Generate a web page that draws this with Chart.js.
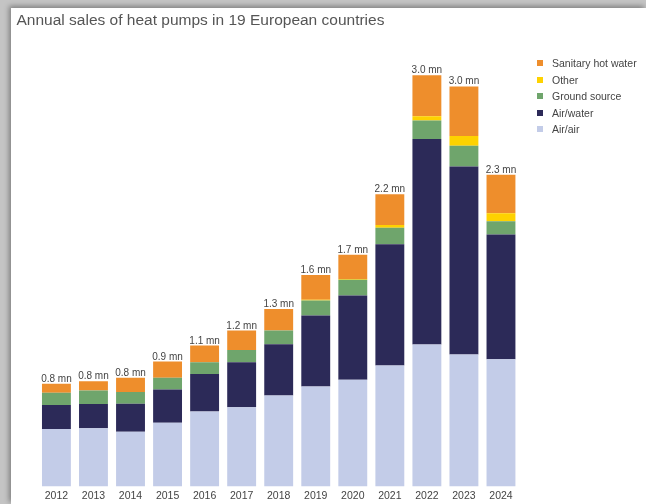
<!DOCTYPE html>
<html>
<head>
<meta charset="utf-8">
<script src="https://cdn.jsdelivr.net/npm/chart.js@4.4.1/dist/chart.umd.min.js"></script>
<style>
  html, body { margin: 0; padding: 0; }
  body { width: 646px; height: 504px; background: #c4c4c4; overflow: hidden; position: relative;
         font-family: "Liberation Sans", Arial, sans-serif; }
  #panel { position: absolute; left: 11px; top: 8px; width: 635px; height: 496px; background: #fff;
           box-shadow: -2px -2px 5px rgba(0,0,0,0.35); }
  canvas { display: block; }
  #legend { position: absolute; left: 537px; top: 55px; }
  #legend .item { position: relative; height: 16.5px; line-height: 16.5px; font-size: 10.5px; color: #444; white-space: nowrap; }
  #legend .sw { position: absolute; left: 0; top: 5.25px; width: 6px; height: 6px; }
  #legend .txt { position: absolute; left: 15px; top: 0; }
</style>
</head>
<body>
<div id="panel"><canvas id="graph" width="635" height="496"></canvas></div>
<div id="legend"></div>
<script>
const years = ['2012', '2013', '2014', '2015', '2016', '2017', '2018', '2019', '2020', '2021', '2022', '2023', '2024'];

// sales in millions
const airAir =     [0.42, 0.425, 0.40, 0.465, 0.547, 0.579, 0.664, 0.73, 0.78, 0.883, 1.036, 0.963, 0.929];
const airWater =   [0.175, 0.178, 0.204, 0.243, 0.275, 0.328, 0.375, 0.518, 0.615, 0.885, 1.50, 1.372, 0.91];
const ground =     [0.09, 0.097, 0.085, 0.085, 0.085, 0.09, 0.10, 0.11, 0.115, 0.121, 0.136, 0.153, 0.097];
const other =      [0, 0, 0, 0, 0, 0, 0, 0.005, 0.005, 0.02, 0.03, 0.07, 0.058];
const sanitary =   [0.065, 0.068, 0.104, 0.119, 0.122, 0.141, 0.156, 0.18, 0.177, 0.224, 0.30, 0.362, 0.282];

const totalLabels = ['0.8 mn', '0.8 mn', '0.8 mn', '0.9 mn', '1.1 mn', '1.2 mn', '1.3 mn', '1.6 mn', '1.7 mn', '2.2 mn', '3.0 mn', '3.0 mn', '2.3 mn'];

const FONT = '"Liberation Sans", Arial, sans-serif';

// totals written on top of each stack
const totalsPlugin = {
    id: 'totals',
    afterDatasetsDraw(chart) {
        const ctx = chart.ctx;
        const x = chart.scales.x;
        const y = chart.scales.y;
        ctx.save();
        ctx.font = '10px ' + FONT;
        ctx.fillStyle = '#444';
        ctx.textAlign = 'center';
        ctx.textBaseline = 'alphabetic';
        years.forEach((yr, i) => {
            const total = airAir[i] + airWater[i] + ground[i] + other[i] + sanitary[i];
            ctx.fillText(totalLabels[i], x.getPixelForValue(i), y.getPixelForValue(total) - 2);
        });
        ctx.restore();
    }
};

var ctx = document.getElementById('graph').getContext('2d');

var chart = new Chart(ctx, {
    type: 'bar',
    data: {
        labels: years,
        datasets: [
            { label: 'Air/air', data: airAir, backgroundColor: '#c3cce8' },
            { label: 'Air/water', data: airWater, backgroundColor: '#2c2a58' },
            { label: 'Ground source', data: ground, backgroundColor: '#6fa56c' },
            { label: 'Other', data: other, backgroundColor: '#fed200' },
            { label: 'Sanitary hot water', data: sanitary, backgroundColor: '#ee8e2c' }
        ]
    },
    options: {
        responsive: false,
        animation: false,
        devicePixelRatio: 1,
        layout: { padding: { left: 5.5, right: 126.5, top: 0, bottom: 0 } },
        datasets: {
            bar: { barPercentage: 0.78, categoryPercentage: 1.0, borderWidth: 0 }
        },
        scales: {
            x: {
                stacked: true,
                grid: { display: false, drawTicks: false },
                border: { display: false },
                ticks: { color: '#444', padding: 3, font: { family: FONT, size: 10.5 } },
                afterFit: s => { s.height = 17.5; }
            },
            y: {
                stacked: true,
                min: 0,
                max: 3.173,
                grid: { display: false, drawTicks: false },
                border: { display: false },
                ticks: { display: false },
                afterFit: s => { s.width = 21.4; }
            }
        },
        plugins: {
            title: {
                display: true,
                text: 'Annual sales of heat pumps in 19 European countries',
                align: 'start',
                color: '#555',
                font: { family: FONT, size: 15.5, weight: 'normal', lineHeight: 1.2 },
                padding: { top: 3.2, bottom: 22 }
            },
            legend: { display: false },
            tooltip: { enabled: false }
        }
    },
    plugins: [totalsPlugin]
});

// legend on the right, top series first
const legendEl = document.getElementById('legend');
chart.data.datasets.slice().reverse().forEach(ds => {
    const item = document.createElement('div');
    item.className = 'item';
    const sw = document.createElement('span');
    sw.className = 'sw';
    sw.style.background = ds.backgroundColor;
    const txt = document.createElement('span');
    txt.className = 'txt';
    txt.textContent = ds.label;
    item.appendChild(sw);
    item.appendChild(txt);
    legendEl.appendChild(item);
});
</script>
</body>
</html>
